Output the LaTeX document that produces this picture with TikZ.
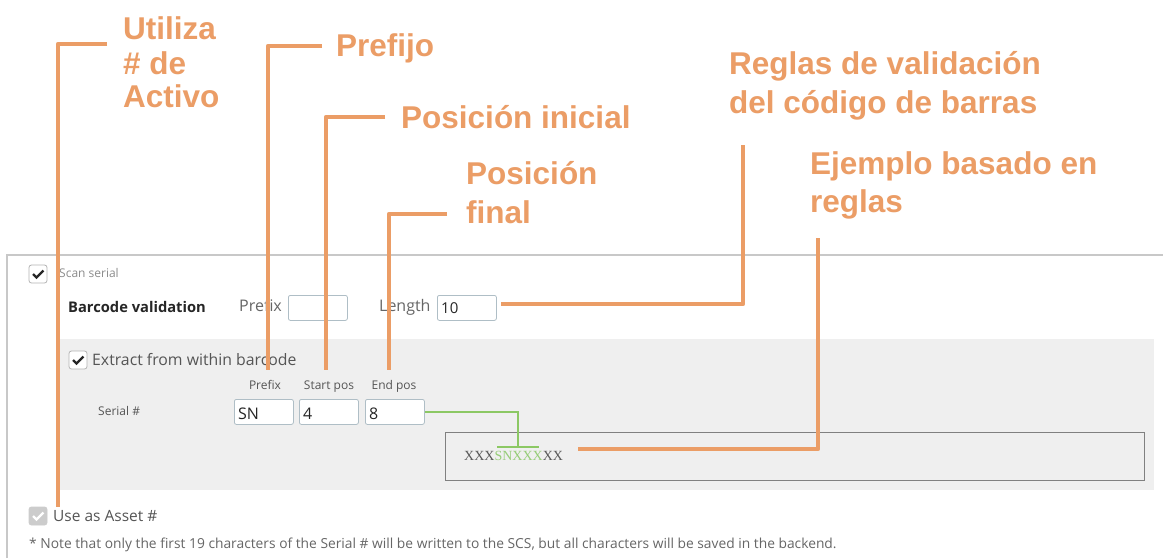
\documentclass[tikz,border=0pt]{standalone}
\usepackage{fontspec}
\setmainfont{Open Sans}
\newfontfamily\arl{Liberation Sans}
\newfontfamily\srf{Liberation Serif}
\newcommand\myfs[1]{\fontsize{#1}{#1}\selectfont}
\definecolor{org}{RGB}{235,157,102}
\definecolor{gline}{RGB}{140,200,100}
\definecolor{gtext}{RGB}{150,205,120}
\definecolor{uitext}{RGB}{85,85,85}
\definecolor{lighttext}{RGB}{140,140,140}
\definecolor{panelb}{RGB}{200,200,200}
\definecolor{panelfill}{RGB}{239,239,239}
\definecolor{boxb}{RGB}{175,190,198}
\definecolor{chkb}{RGB}{180,180,180}
\definecolor{exb}{RGB}{128,128,128}
\begin{document}
\begin{tikzpicture}[x=1pt,y=-1pt,
  callout/.style={draw=org, line width=4.5pt, line join=round},
  lbl/.style={anchor=base west, inner sep=0, text=org, font=\arl\bfseries\myfs{31.5}},
  ui/.style={anchor=base west, inner sep=0, text=uitext, font=\myfs{15}},
  inbox/.style={draw=boxb, fill=white, rounded corners=2pt, line width=0.8pt, anchor=north west, minimum width=59pt, minimum height=25pt, inner sep=0},
  chk/.style={draw=chkb, fill=white, rounded corners=2.5pt, line width=0.8pt, minimum size=18pt, inner sep=0},
  chkmark/.style={draw=black!85, line width=2.4pt},
  grn/.style={draw=gline, line width=1.6pt}]
\useasboundingbox[fill=white] (0,0) rectangle (1163,558);

% outer panel
\draw[panelb, line width=2pt] (7,558) -- (7,255) -- (1163,255);
% inner gray panel
\fill[panelfill] (56,339) rectangle (1154,490);

% Scan serial row
\node[chk] (cb1) at (38,274) {};
\draw[chkmark] ([shift={(-5,0)}]cb1.center) -- ++(3.5,3.5) -- ++(7,-7);
\node[ui, text=lighttext, font=\myfs{12}] (scan) at (59,277) {Scan serial};
\node[ui, text=black!85, font=\bfseries\myfs{14.7}] (bval) at (68,312) {Barcode validation};
\node[ui, text=black!60, font=\myfs{16}] (pfxlbl) at (239,311) {Prefix};
\node[inbox] (pfxbox) at (288,295) {};
\node[ui, text=black!60, font=\myfs{16}] (lenlbl) at (379,311) {Length};
\node[inbox] (lenbox) at (437,295) {};
\node[ui, text=black!85, font=\myfs{15}] (lenval) at (441,313) {10};

% Extract row
\node[chk] (cb2) at (78,360) {};
\draw[chkmark] ([shift={(-5,0)}]cb2.center) -- ++(3.5,3.5) -- ++(7,-7);
\node[ui, font=\myfs{15.8}] (extract) at (92,365) {Extract from within barcode};
\node[anchor=base, inner sep=0, text=uitext, font=\myfs{12}] (hpfx) at (265,389) {Prefix};
\node[anchor=base, inner sep=0, text=uitext, font=\myfs{12}] (hstart) at (329,389) {Start pos};
\node[anchor=base, inner sep=0, text=uitext, font=\myfs{12}] (hend) at (394,389) {End pos};
\node[ui, font=\myfs{12}] (serial) at (98,415) {Serial \#};
\node[inbox] (snbox) at (234,399) {};
\node[inbox] (stbox) at (299,399) {};
\node[inbox] (endbox) at (365,399) {};
\node[ui, text=black!85, font=\myfs{16}] (snval) at (238,419) {SN};
\node[ui, text=black!85, font=\myfs{16}] (stval) at (303,419) {4};
\node[ui, text=black!85, font=\myfs{16}] (endval) at (369,419) {8};

% example box
\node[draw=exb, line width=0.9pt, fill=panelfill, anchor=north west, minimum width=699pt, minimum height=48pt, inner sep=0] (exbox) at (445,432) {};
\node[anchor=base west, inner sep=0, text=black!65, font=\srf\myfs{14}] (extext) at (464,460) {XXX\textcolor{gtext}{SNXXX}XX};
\coordinate (gbar) at (518,447);
\coordinate (gbarL) at (497,447);
\coordinate (gbarR) at (539,447);
\draw[grn] (endbox.east) -| (gbar);
\draw[grn] (gbarL) -- (gbarR);

% Use as Asset
\node[chk, draw=black!20, fill=black!20] (cb3) at (38,516) {};
\draw[chkmark, draw=white] ([shift={(-5,0)}]cb3.center) -- ++(3.5,3.5) -- ++(7,-7);
\node[ui, font=\myfs{15.5}] (asset) at (53,521) {Use as Asset \#};
\node[ui, text=black!60, font=\myfs{13.8}] (note) at (29,548) {* Note that only the first 19 characters of the Serial \# will be written to the SCS, but all characters will be saved in the backend.};

% callout labels
\node[lbl] (utA) at (123,39) {Utiliza};
\node[lbl] (utB) at (123,74) {\# de};
\node[lbl] (utC) at (123,107) {Activo};
\node[lbl] (pref) at (336,56) {Prefijo};
\node[lbl] (pini) at (401,128) {Posición inicial};
\node[lbl] (regA) at (729,74) {Reglas de validación};
\node[lbl] (regB) at (729,113) {del código de barras};
\node[lbl] (pfinA) at (466,184) {Posición};
\node[lbl] (pfinB) at (466,223) {final};
\node[lbl] (ejA) at (810,174) {Ejemplo basado en};
\node[lbl] (ejB) at (810,212) {reglas};

% callout lines
\coordinate (u1) at (107,44);   \coordinate (u2) at (58,507);
\coordinate (p1) at (322,46);   \coordinate (p2) at (268,370);
\coordinate (i1) at (385,117);  \coordinate (i2) at (326,370);
\coordinate (f1) at (447,214);  \coordinate (f2) at (389,370);
\coordinate (r1) at (501,304);  \coordinate (r2) at (743,145);
\coordinate (e1) at (578,449);  \coordinate (e2) at (818,238);
\draw[callout] (u1) -| (u2);
\draw[callout] (p1) -| (p2);
\draw[callout] (i1) -| (i2);
\draw[callout] (f1) -| (f2);
\draw[callout] (r1) -| (r2);
\draw[callout] (e1) -| (e2);
\end{tikzpicture}
\end{document}
